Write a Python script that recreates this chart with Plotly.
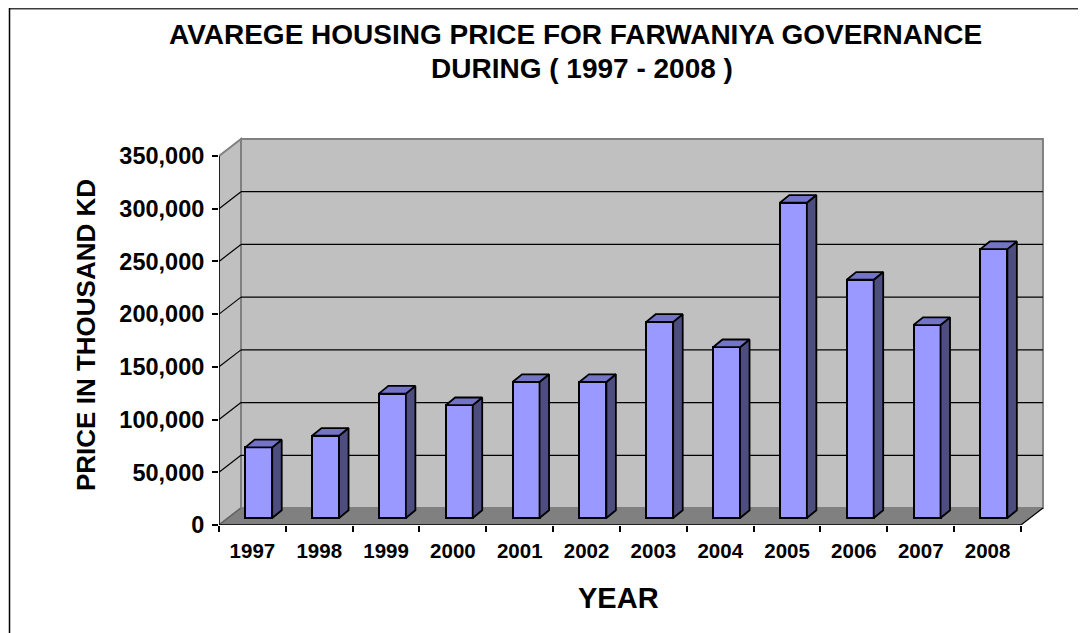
import plotly.graph_objects as go

# ---------------- data ----------------
years = ["1997", "1998", "1999", "2000", "2001", "2002",
         "2003", "2004", "2005", "2006", "2007", "2008"]
prices = [67000, 78000, 118000, 107000, 129000, 129000,
          186000, 162000, 299000, 226000, 183000, 255000]
y_ticks = [0, 50000, 100000, 150000, 200000, 250000, 300000, 350000]
title_line1 = "AVAREGE HOUSING PRICE FOR FARWANIYA GOVERNANCE"
title_line2 = "DURING ( 1997 - 2008 )"
y_title = "PRICE IN THOUSAND KD"
x_title = "YEAR"

# ---------------- geometry (page pixels -> axis units) ----------------
OFF = 8                             # default body margin of the html page
W, H = 1086 - OFF, 633 - OFF
PX_L, PX_R, PY_T, PY_B = 219 - OFF, 1050 - OFF, 130 - OFF, 525 - OFF
n = len(years)
U_PX = 66.83                       # pixels per category
V_PX = 369 / y_ticks[-1]           # pixels per value unit
x_max = (PX_R - PX_L) / U_PX
y_max = (PY_B - PY_T) / V_PX
WALL_DX, WALL_DY = 22 / U_PX, 17 / V_PX
BAR_W = 27 / U_PX
BAR_SHIFT = 6.3 / U_PX
BAR_BASE = 7 / V_PX
SIDE_DX, SIDE_DY = 9.5 / U_PX, 7.7 / V_PX
VMAX = y_ticks[-1]

FONT = "Arial, Liberation Sans, sans-serif"


def px2paper_x(px):
    return (px - OFF - PX_L) / (PX_R - PX_L)


def px2paper_y(py):
    return (PY_B - (py - OFF)) / (PY_B - PY_T)


fig = go.Figure()

# bars (front faces)
xs = [i + 0.5 + BAR_SHIFT for i in range(n)]
fig.add_trace(go.Bar(
    x=xs, y=prices, base=BAR_BASE, width=BAR_W,
    marker=dict(color="#9999FF", line=dict(color="black", width=2)),
    hoverinfo="skip", showlegend=False,
))

# side and top faces, derived from the same values
side_x, side_y, top_x, top_y = [], [], [], []
for xc, v in zip(xs, prices):
    l, r = xc - BAR_W / 2, xc + BAR_W / 2
    b, t = BAR_BASE, BAR_BASE + v
    side_x += [r, r + SIDE_DX, r + SIDE_DX, r, r, None]
    side_y += [b, b + SIDE_DY, t + SIDE_DY, t, b, None]
    top_x += [l, r, r + SIDE_DX, l + SIDE_DX, l, None]
    top_y += [t, t, t + SIDE_DY, t + SIDE_DY, t, None]

fig.add_trace(go.Scatter(x=side_x, y=side_y, mode="lines", fill="toself",
                         fillcolor="#4D4D80", line=dict(color="black", width=1.8),
                         hoverinfo="skip", showlegend=False))
fig.add_trace(go.Scatter(x=top_x, y=top_y, mode="lines", fill="toself",
                         fillcolor="#7373C8", line=dict(color="black", width=1.8),
                         hoverinfo="skip", showlegend=False))

# dummy trace so the label axis (x2) is drawn
fig.add_trace(go.Scatter(x=[0.5], y=[None], xaxis="x2", showlegend=False,
                         hoverinfo="skip"))

shapes = []
# back wall
shapes.append(dict(type="rect", xref="x", yref="y", layer="below",
                   x0=WALL_DX, x1=n + WALL_DX, y0=WALL_DY, y1=VMAX + WALL_DY,
                   fillcolor="#C0C0C0", line=dict(color="#808080", width=2)))
# left wall
shapes.append(dict(type="path", xref="x", yref="y", layer="below",
                   path=f"M 0,0 L 0,{VMAX} L {WALL_DX},{VMAX + WALL_DY} L {WALL_DX},{WALL_DY} Z",
                   fillcolor="#C0C0C0", line=dict(color="#808080", width=2)))
# floor
shapes.append(dict(type="path", xref="x", yref="y", layer="below",
                   path=f"M 0,0 L {n},0 L {n + WALL_DX},{WALL_DY} L {WALL_DX},{WALL_DY} Z",
                   fillcolor="#808080", line=dict(width=0)))
# gridlines on the walls
for t in y_ticks[1:-1]:
    shapes.append(dict(type="line", xref="x", yref="y", layer="below",
                       x0=WALL_DX, x1=n + WALL_DX, y0=t + WALL_DY, y1=t + WALL_DY,
                       line=dict(color="black", width=1.2)))
    shapes.append(dict(type="line", xref="x", yref="y", layer="below",
                       x0=0, x1=WALL_DX, y0=t, y1=t + WALL_DY,
                       line=dict(color="black", width=1.2)))
shapes.append(dict(type="line", xref="x", yref="y", layer="below",
                   x0=0, x1=WALL_DX, y0=0, y1=WALL_DY,
                   line=dict(color="#606060", width=1.2)))
shapes.append(dict(type="line", xref="x", yref="y", layer="below",
                   x0=n, x1=n + WALL_DX, y0=0, y1=WALL_DY,
                   line=dict(color="black", width=1.2)))
# front axis lines
shapes.append(dict(type="line", xref="x", yref="y",
                   x0=0, x1=n, y0=0, y1=0, line=dict(color="black", width=1.5)))
shapes.append(dict(type="line", xref="x", yref="y",
                   x0=0, x1=0, y0=0, y1=VMAX, line=dict(color="black", width=1.5)))
# outer chart-area border
shapes.append(dict(type="line", xref="paper", yref="paper",
                   x0=px2paper_x(9), x1=px2paper_x(1095), y0=px2paper_y(8), y1=px2paper_y(8),
                   line=dict(color="#3C3C3C", width=3)))
shapes.append(dict(type="line", xref="paper", yref="paper",
                   x0=px2paper_x(9.5), x1=px2paper_x(9.5), y0=px2paper_y(8), y1=px2paper_y(645),
                   line=dict(color="black", width=1.5)))

annotations = [
    dict(text=title_line1, xref="paper", yref="paper", x=px2paper_x(575), y=px2paper_y(34),
         xanchor="center", yanchor="middle", showarrow=False,
         font=dict(family=FONT, size=28, color="black", weight="bold")),
    dict(text=title_line2, xref="paper", yref="paper", x=px2paper_x(582), y=px2paper_y(68),
         xanchor="center", yanchor="middle", showarrow=False,
         font=dict(family=FONT, size=28, color="black", weight="bold")),
    dict(text=y_title, xref="paper", yref="paper", x=px2paper_x(86), y=px2paper_y(335),
         xanchor="center", yanchor="middle", showarrow=False, textangle=-90,
         font=dict(family=FONT, size=26, color="black", weight="bold")),
    dict(text=x_title, xref="paper", yref="paper", x=px2paper_x(618), y=px2paper_y(598),
         xanchor="center", yanchor="middle", showarrow=False,
         font=dict(family=FONT, size=29, color="black", weight="bold")),
]

fig.update_layout(
    width=W, height=H,
    margin=dict(l=PX_L, r=W - PX_R, t=PY_T, b=H - PY_B, autoexpand=False),
    paper_bgcolor="white", plot_bgcolor="white",
    showlegend=False, bargap=0,
    shapes=shapes, annotations=annotations,
    xaxis=dict(range=[0, x_max], tickvals=list(range(n + 1)),
               ticktext=[""] * (n + 1), ticks="outside", ticklen=6,
               tickcolor="black", tickwidth=1.5,
               showgrid=False, zeroline=False, showline=False, fixedrange=True),
    xaxis2=dict(range=[0, x_max], overlaying="x", side="bottom", anchor="y",
                tickvals=[i + 0.5 for i in range(n)], ticktext=years,
                ticks="", showgrid=False, zeroline=False, showline=False,
                ticklabelstandoff=11,
                tickfont=dict(family=FONT, size=20.5, color="black", weight="bold")),
    yaxis=dict(range=[0, y_max], tickvals=y_ticks, tickformat=",",
               ticks="outside", ticklen=6, tickcolor="black", tickwidth=1.5,
               showgrid=False, zeroline=False, showline=False,
               ticklabelstandoff=3,
               tickfont=dict(family=FONT, size=23.5, color="black", weight="bold")),
)

fig.write_html("out.html")
